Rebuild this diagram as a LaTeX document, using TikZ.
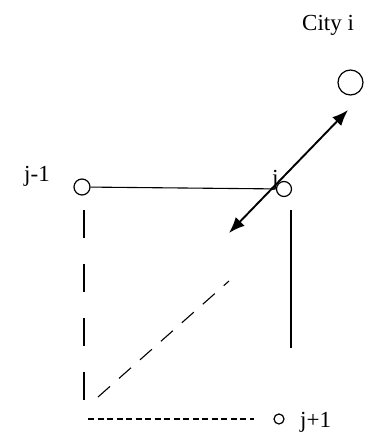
\documentclass[tikz,border=0pt]{standalone}
\usepackage{fontspec}
\setmainfont{Liberation Serif}
\usetikzlibrary{arrows.meta}
\begin{document}
\begin{tikzpicture}[x=1pt, y=-1pt, font=\fontsize{23}{26}\selectfont, >={Latex[length=16pt,width=12.5pt]},
        city/.style={draw, circle, line width=1.2pt, inner sep=0pt},
        lbl/.style={inner sep=0pt, anchor=base west},
        edge/.style={line width=1.1pt}]
      \useasboundingbox (0,0) rectangle (386,437);
      \node[city, minimum size=25pt] (cityi) at (350.5,82.5) {};
      \node[city, minimum size=16pt] (jm)    at (82,187)     {};
      \node[city, minimum size=15pt] (jj)    at (284,189)    {};
      \node[city, minimum size=10pt] (jp)    at (279,419)    {};
      \node[lbl] (lcity) at (302,30)  {City i};
      \node[lbl] (ljm)   at (24,181)  {j-1};
      \node[lbl] (ljj)   at (272,185) {j};
      \node[lbl] (ljp)   at (300,427) {j+1};
      \coordinate (atop) at (348,110);
      \coordinate (abot) at (229,233);
      \coordinate (rtop) at (291,210);
      \coordinate (rbot) at (291,348);
      \coordinate (ltop) at (84,210);
      \coordinate (lbot) at (84,402);
      \coordinate (dlow) at (98,397);
      \coordinate (dhigh) at (229,281);
      \coordinate (bleft) at (88,419);
      \coordinate (bright) at (254,419);
      \draw[edge] (jm) -- (jj);
      \draw[<->, line width=1.9pt] (atop) -- (abot);
      \draw[edge] (rtop) -- (rbot);
      \draw[edge, dash pattern=on 28pt off 26pt] (ltop) -- (lbot);
      \draw[edge, dash pattern=on 16pt off 12pt] (dlow) -- (dhigh);
      \draw[edge, dash pattern=on 6pt off 3.5pt] (bleft) -- (bright);
    \end{tikzpicture}
\end{document}
